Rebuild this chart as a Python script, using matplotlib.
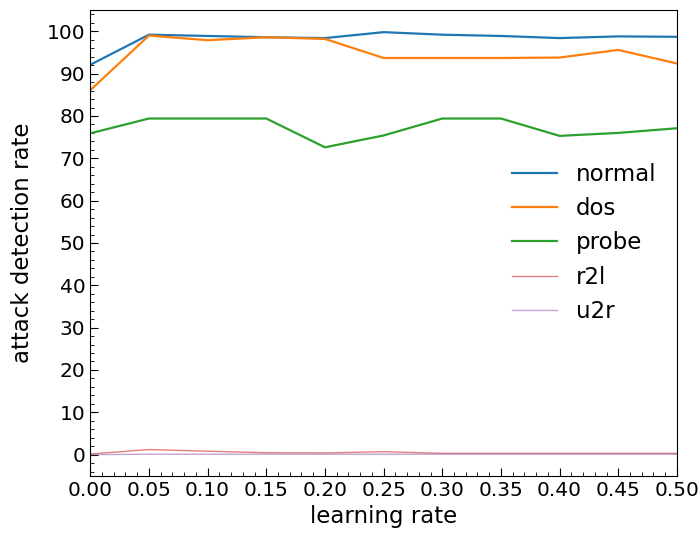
import numpy as np
import matplotlib
matplotlib.use('Agg')
import matplotlib.pyplot as plt
from matplotlib.ticker import MultipleLocator

lr = [0.0, 0.05, 0.10, 0.15, 0.20, 0.25, 0.30, 0.35, 0.40, 0.45, 0.50]
normal = [92.1, 99.2, 98.9, 98.6, 98.4, 99.8, 99.2, 98.9, 98.4, 98.8, 98.7]
dos = [86.1, 99.0, 97.9, 98.6, 98.2, 93.7, 93.7, 93.7, 93.8, 95.6, 92.4]
probe = [75.9, 79.4, 79.4, 79.4, 72.6, 75.4, 79.4, 79.4, 75.3, 76.0, 77.1]
r2l = [0.15, 1.2, 0.8, 0.45, 0.4, 0.7, 0.3, 0.3, 0.3, 0.3, 0.3]
u2r = [0.0, 0.1, 0.1, 0.1, 0.1, 0.1, 0.1, 0.1, 0.1, 0.1, 0.1]

fig = plt.figure(figsize=(7, 5.34), dpi=100)
ax = fig.add_axes([0.129, 0.109, 0.838, 0.872])
ax.plot(lr, normal, color='C0', lw=1.6, label='normal')
ax.plot(lr, dos, color='C1', lw=1.6, label='dos')
ax.plot(lr, probe, color='C2', lw=1.6, label='probe')
ax.plot(lr, r2l, color='C3', lw=1.0, alpha=0.6, label='r2l')
ax.plot(lr, u2r, color='C4', lw=1.0, alpha=0.6, label='u2r')

ax.set_xlim(0, 0.5)
ax.set_ylim(-5, 105)
ax.xaxis.set_major_locator(MultipleLocator(0.05))
ax.xaxis.set_minor_locator(MultipleLocator(0.01))
ax.yaxis.set_major_locator(MultipleLocator(10))
ax.yaxis.set_minor_locator(MultipleLocator(2))
ax.tick_params(which='both', direction='in', labelsize=14.5)
ax.tick_params(which='major', length=6)
ax.tick_params(which='minor', length=3)
ax.set_xlabel('learning rate', fontsize=16.5)
ax.set_ylabel('attack detection rate', fontsize=16.5, labelpad=9)
ax.legend(frameon=False, fontsize=16.5, loc='center right', bbox_to_anchor=(1.0, 0.5))

fig.savefig('out.png', dpi=100)
